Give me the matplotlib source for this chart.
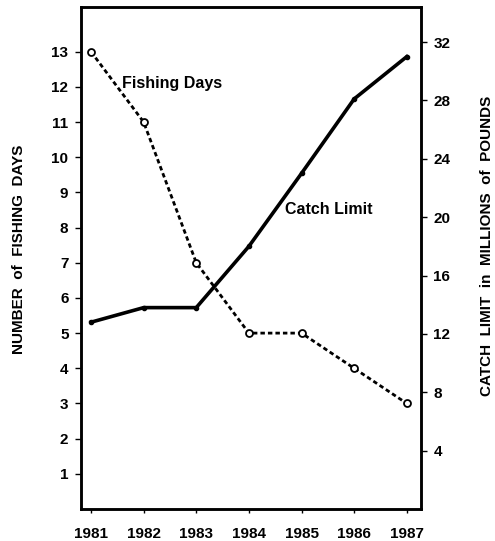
import matplotlib
matplotlib.use("Agg")
import matplotlib.pyplot as plt

years = [1981, 1982, 1983, 1984, 1985, 1986, 1987]
fishing_days = [13, 11, 7, 5, 5, 4, 3]
catch_limit = [12.8, 13.8, 13.8, 18.0, 23.0, 28.1, 31.0]
left_ticks = list(range(1, 14))
right_ticks = [4, 8, 12, 16, 20, 24, 28, 32]

plt.rcParams['font.family'] = ['Liberation Sans', 'DejaVu Sans']
plt.rcParams['font.weight'] = 'bold'

W, H = 495, 541
fig = plt.figure(figsize=(W/100, H/100), dpi=100)
ax = fig.add_axes([81/W, 1-509/H, 340/W, 502/H])
ax2 = ax.twinx()

ax.plot(years, fishing_days, linestyle=(0, (1.6, 1.1)), color='black', lw=2.0,
        marker='o', markersize=5, markerfacecolor='white', markeredgecolor='black',
        markeredgewidth=1.3, zorder=3)
ax2.plot(years, catch_limit, '-', color='black', lw=2.6, marker='o', markersize=3,
         markerfacecolor='black', zorder=3)

ax.set_xlim(1980.81, 1987.27)
ax.set_ylim(0, 14.27)
ax2.set_ylim(0, 34.4)

tfs = 11
ax.set_xticks(years)
ax.set_xticklabels([str(y) for y in years], fontsize=tfs, fontweight='bold')
ax.set_yticks(left_ticks)
ax.set_yticklabels([str(t) for t in left_ticks], fontsize=tfs, fontweight='bold')
ax2.set_yticks(right_ticks)
ax2.set_yticklabels([str(t) for t in right_ticks], fontsize=tfs, fontweight='bold')

for a in (ax, ax2):
    for s in a.spines.values():
        s.set_linewidth(1.8)
    a.tick_params(direction='out', length=4, width=1.0, pad=5)
ax.tick_params(axis='x', length=3, pad=10)

fig.text(19/W, 1-249/H, 'NUMBER  of  FISHING  DAYS', fontsize=11, fontweight='bold',
         rotation=90, ha='center', va='center')
fig.text(487/W, 1-246/H, 'CATCH  LIMIT  in  MILLIONS  of  POUNDS', fontsize=11,
         fontweight='bold', rotation=90, ha='center', va='center')

ax.text(1981.59, 12.1, 'Fishing Days', fontsize=11.5, fontweight='bold', va='center', ha='left')
ax.text(1984.68, 8.5, 'Catch Limit', fontsize=11.5, fontweight='bold', va='center', ha='left')

fig.savefig('out.png', dpi=100)
